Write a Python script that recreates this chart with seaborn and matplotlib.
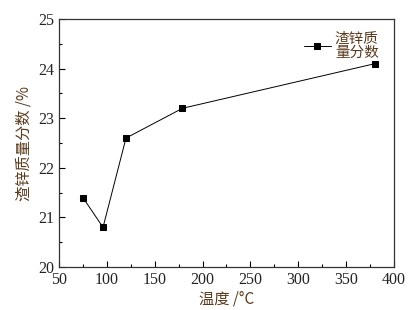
import matplotlib
matplotlib.use("Agg")
import matplotlib.pyplot as plt
import seaborn as sns
import pandas as pd
from matplotlib.ticker import MultipleLocator

temperature = [75, 96, 120, 179, 380]
zinc_fraction = [21.4, 20.8, 22.6, 23.2, 24.1]
series_name = "渣锌质\n量分数"

sns.set_theme(style="ticks")
plt.rcParams['font.family'] = ['Liberation Serif', 'Noto Sans CJK SC', 'DejaVu Sans']
plt.rcParams['axes.unicode_minus'] = False

df = pd.DataFrame({"temp": temperature, "frac": zinc_fraction, "s": series_name})

fig = plt.figure(figsize=(4.14, 3.10), dpi=100)
ax = fig.add_axes([0.1425, 0.1387, 0.8092, 0.7999])
sns.lineplot(data=df, x="temp", y="frac", hue="s", palette=["black"], marker="s",
             markersize=5, linewidth=0.7, markeredgecolor="black", ax=ax, legend=True)

ax.set_xlim(50, 400)
ax.set_ylim(20, 25)
ax.xaxis.set_major_locator(MultipleLocator(50))
ax.xaxis.set_minor_locator(MultipleLocator(25))
ax.yaxis.set_major_locator(MultipleLocator(1))
ax.yaxis.set_minor_locator(MultipleLocator(0.5))
ax.tick_params(which="both", direction="in", top=False, right=False, labelsize=11.5, colors="black", labelcolor="#222222")
ax.tick_params(which="major", length=4, width=0.8)
ax.tick_params(which="minor", length=2.5, width=0.8)
for sp in ax.spines.values():
    sp.set_linewidth(0.9)
    sp.set_color("#333333")
    sp.set_visible(True)

lab_color = "#5a3a1c"
ax.set_xlabel("温度 /°C", fontsize=11, color=lab_color, labelpad=2,
              family=['Noto Sans CJK SC', 'DejaVu Sans'])
ax.set_ylabel("渣锌质量分数 /%", fontsize=11, color=lab_color, labelpad=4,
              family=['Noto Sans CJK SC', 'DejaVu Sans'])

leg = ax.legend(loc="upper right", bbox_to_anchor=(0.985, 0.99), frameon=False,
                handlelength=1.8, handletextpad=0.3, borderpad=0.2,
                prop={'family': ['Noto Sans CJK SC', 'DejaVu Sans'], 'size': 10.5})
for t in leg.get_texts():
    t.set_color(lab_color)
    t.set_linespacing(1.0)

fig.savefig("out.png", dpi=100)
